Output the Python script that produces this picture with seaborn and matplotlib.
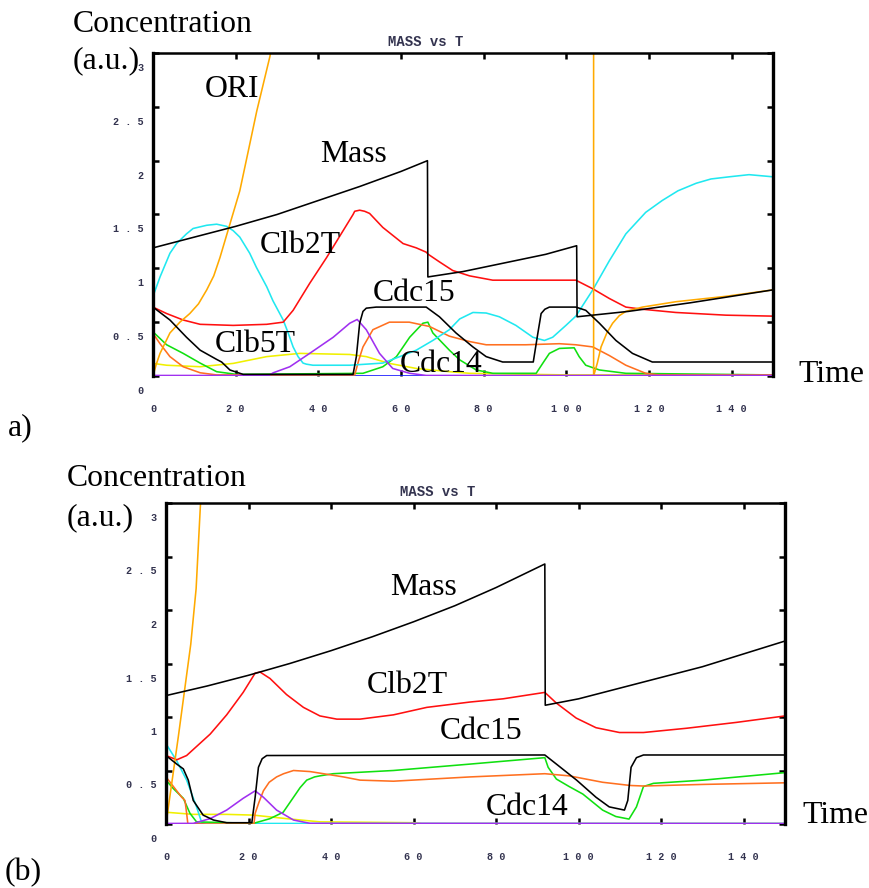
import matplotlib
matplotlib.use("Agg")
import matplotlib.pyplot as plt
import matplotlib.transforms as mtrans
import seaborn as sns

# ---------------- data: panel a ----------------
t_mass_a = [0, 10, 20, 30, 40, 50, 60, 66.4, 66.5, 75, 85, 95, 102.5, 102.6, 115, 130, 140, 150]
mass_a = [1.19, 1.29, 1.39, 1.50, 1.63, 1.76, 1.90, 2.00, 0.92, 0.97, 1.05, 1.13, 1.21, 0.55, 0.60, 0.68, 0.74, 0.80]

t_ori_a = [0, 0.8, 1.7, 4.1, 6.5, 8.9, 11, 13, 14.7, 16.2, 18.6, 21, 23, 25.1, 28.3, 29.5, 106.6, 106.6, 107.5, 108.4, 109.8, 111.2, 112.8, 114.4, 118.4, 126.5, 138.6, 150]
ori_a = [0, 0.11, 0.21, 0.40, 0.50, 0.58, 0.67, 0.80, 0.93, 1.10, 1.41, 1.72, 2.08, 2.46, 2.97, 3.3, 3.3, 0, 0.12, 0.27, 0.40, 0.49, 0.56, 0.60, 0.64, 0.69, 0.74, 0.80]

t_cyan_a = [0, 1.7, 4.1, 5.7, 8.1, 9.7, 13, 15.4, 17.8, 19.4, 21, 23.4, 25, 27.5, 29, 31.5, 32.7, 33.9, 35.1, 36.3, 37.1, 38.7, 47.6, 51.6, 55.6, 59.7, 63.7, 67.7, 71.7, 74.2, 77.4, 80.6, 83.8, 87.8, 91.9, 94.7, 96.7, 99.9, 102.3, 106.4, 110.4, 114.4, 119.2, 123.2, 127, 131.4, 135, 139.4, 144.2, 150]
cyan_a = [0.74, 0.92, 1.14, 1.23, 1.32, 1.37, 1.40, 1.41, 1.39, 1.35, 1.29, 1.14, 1.01, 0.83, 0.70, 0.52, 0.40, 0.27, 0.18, 0.12, 0.11, 0.10, 0.10, 0.11, 0.12, 0.18, 0.24, 0.33, 0.43, 0.53, 0.59, 0.585, 0.55, 0.47, 0.36, 0.33, 0.36, 0.47, 0.556, 0.80, 1.07, 1.32, 1.52, 1.63, 1.72, 1.79, 1.83, 1.85, 1.87, 1.85]

t_clb2_a = [0, 3.3, 7.3, 11.4, 19.4, 27.5, 31.5, 33.9, 37.9, 42, 46, 48.4, 48.8, 50, 51.2, 52.4, 55.6, 60.5, 63.7, 66.1, 66.6, 69.3, 72.5, 76.6, 82.2, 97.5, 102.3, 106.4, 110.4, 114.4, 118.4, 126.5, 138.6, 150]
clb2_a = [0.64, 0.58, 0.52, 0.48, 0.47, 0.48, 0.50, 0.61, 0.86, 1.10, 1.35, 1.50, 1.53, 1.54, 1.53, 1.51, 1.38, 1.23, 1.19, 1.15, 1.13, 1.06, 0.98, 0.93, 0.89, 0.89, 0.89, 0.81, 0.72, 0.64, 0.62, 0.59, 0.565, 0.556]

t_cdc15_a = [0, 4.1, 8.1, 11.4, 15.4, 16.6, 18.6, 21.8, 48.4, 49.2, 50, 50.8, 51.6, 54, 66.1, 69.3, 73.3, 77.4, 80.6, 84.6, 92, 93.1, 93.9, 94.8, 95.9, 102.3, 104.7, 108, 112, 116, 120.8, 150]
cdc15_a = [0.64, 0.52, 0.36, 0.24, 0.154, 0.13, 0.056, 0.015, 0.015, 0.18, 0.49, 0.60, 0.63, 0.64, 0.64, 0.55, 0.40, 0.27, 0.18, 0.13, 0.13, 0.395, 0.58, 0.62, 0.64, 0.64, 0.61, 0.49, 0.33, 0.21, 0.13, 0.13]

t_dorange_a = [0, 1.7, 4.1, 7.3, 11.4, 15.4, 48.8, 49.8, 50.8, 53.2, 57.2, 62, 66.9, 71.7, 76.6, 80.6, 90.2, 98.3, 102.3, 106.4, 110.4, 114.4, 119.2, 122.4, 150]
dorange_a = [0.395, 0.30, 0.18, 0.086, 0.03, 0.01, 0.01, 0.15, 0.27, 0.43, 0.50, 0.50, 0.46, 0.37, 0.32, 0.29, 0.29, 0.30, 0.29, 0.27, 0.19, 0.10, 0.025, 0.01, 0.01]

t_green_a = [0, 3.3, 7.3, 11.4, 15.4, 20.2, 50.8, 55.6, 58.9, 62.1, 65.3, 66.5, 67.7, 71.7, 74.2, 78.2, 82.2, 92.7, 94.5, 95.9, 98.3, 101.9, 103.1, 104.7, 108, 114.4, 150]
green_a = [0.41, 0.29, 0.21, 0.12, 0.04, 0.015, 0.025, 0.086, 0.18, 0.36, 0.49, 0.50, 0.40, 0.24, 0.15, 0.056, 0.025, 0.025, 0.13, 0.21, 0.256, 0.262, 0.18, 0.10, 0.056, 0.025, 0.01]

t_purple_a = [0, 28, 29.1, 33.1, 37.9, 43.6, 47.6, 49.4, 51.6, 54.8, 58, 62.1, 66.1, 150]
purple_a = [0.005, 0.005, 0.03, 0.086, 0.21, 0.36, 0.49, 0.525, 0.43, 0.21, 0.07, 0.025, 0.005, 0.005]

t_yellow_a = [0, 3.3, 11.4, 19.4, 27.5, 35.5, 47.6, 51.6, 57.2, 63.7, 71.7, 76.6, 100, 150]
yellow_a = [0.117, 0.10, 0.086, 0.117, 0.18, 0.21, 0.20, 0.18, 0.117, 0.07, 0.04, 0.025, 0.01, 0.01]

t_blue_a = [0, 150]
blue_a = [0, 0]

# ---------------- data: panel b ----------------
t_mass_b = [0, 10, 20, 30, 40, 50, 60, 70, 80, 91.8, 91.9, 100, 110, 120, 130, 140, 150]
mass_b = [1.20, 1.29, 1.39, 1.50, 1.62, 1.75, 1.89, 2.04, 2.21, 2.43, 1.11, 1.17, 1.27, 1.37, 1.47, 1.59, 1.71]

t_ori_b = [0, 3, 6, 7.3, 8.3, 8.8]
ori_b = [0, 0.82, 1.68, 2.2, 2.95, 3.3]

t_clb2_b = [0, 2.6, 5, 10.7, 14.7, 18.7, 21.6, 22.8, 25.2, 29.2, 33.3, 37.3, 41.4, 47, 55.1, 63.2, 73.7, 81.7, 91.8, 94.6, 99.4, 104.2, 109.9, 115.7, 126.2, 138.3, 150]
clb2_b = [0.64, 0.60, 0.64, 0.84, 1.02, 1.23, 1.41, 1.42, 1.36, 1.21, 1.09, 1.01, 0.98, 0.98, 1.02, 1.09, 1.14, 1.17, 1.23, 1.13, 0.99, 0.90, 0.855, 0.855, 0.895, 0.95, 1.01]

t_cdc15_b = [0, 2.6, 4.2, 5.4, 6.6, 9, 11.5, 14.7, 20.8, 21.6, 22.4, 23.3, 24.4, 91.8, 94.6, 99.5, 104.2, 107.4, 111.1, 111.9, 112.7, 114, 115.7, 150]
cdc15_b = [0.64, 0.56, 0.515, 0.41, 0.22, 0.083, 0.037, 0.012, 0.012, 0.25, 0.53, 0.61, 0.64, 0.645, 0.56, 0.41, 0.25, 0.16, 0.13, 0.22, 0.53, 0.62, 0.645, 0.645]

t_cyan_b = [0, 2.6, 5, 7.4, 8.6, 10, 150]
cyan_b = [0.75, 0.59, 0.41, 0.16, 0.02, 0.005, 0.005]

t_green_b = [0, 1.8, 4.2, 5.8, 7.4, 21.2, 25.2, 28.4, 30.9, 32.5, 34.1, 36, 37.3, 40.5, 55.1, 73.7, 91.8, 92.6, 94.6, 97.7, 101, 105.8, 109, 112.2, 114, 115.7, 118.1, 130.2, 150]
green_b = [0.41, 0.33, 0.24, 0.10, 0.02, 0.006, 0.05, 0.11, 0.25, 0.34, 0.41, 0.44, 0.45, 0.47, 0.50, 0.56, 0.62, 0.53, 0.42, 0.35, 0.28, 0.13, 0.07, 0.046, 0.16, 0.35, 0.38, 0.41, 0.48]

t_dorange_b = [0, 1.8, 3.8, 4.6, 5.0, 5.3, 21.3, 21.6, 22.5, 23.6, 25, 26.8, 28.5, 30.9, 34.9, 43, 47, 55.1, 73.7, 91.8, 97.7, 105.8, 112.5, 115.7, 130.2, 150]
dorange_b = [0.44, 0.35, 0.25, 0.22, 0.10, 0.0, 0.0, 0.1, 0.2, 0.31, 0.39, 0.44, 0.47, 0.50, 0.49, 0.44, 0.41, 0.40, 0.44, 0.47, 0.45, 0.39, 0.36, 0.355, 0.37, 0.385]

t_purple_b = [0, 6.6, 10.7, 14.7, 18.7, 21.6, 23.6, 26.8, 30.9, 34.9, 150]
purple_b = [0.005, 0.006, 0.05, 0.13, 0.24, 0.31, 0.25, 0.13, 0.037, 0.006, 0.005]

t_yellow_b = [0, 6.6, 14.7, 21.2, 29.2, 37.3, 60, 62, 150]
yellow_b = [0.11, 0.09, 0.09, 0.083, 0.05, 0.02, 0.012, 0.005, 0.005]

t_blue_b = [0, 150]
blue_b = [0, 0]

# ---------------- ticks / labels ----------------
x_ticks = [0, 20, 40, 60, 80, 100, 120, 140]
x_tick_labels = ["0", "2 0", "4 0", "6 0", "8 0", "1 0 0", "1 2 0", "1 4 0"]
y_ticks = [0, 0.5, 1, 1.5, 2, 2.5, 3]
y_tick_labels = ["0", "0 . 5", "1", "1 . 5", "2", "2 . 5", "3"]
title_text = "MASS vs T"

C_BLACK = "#000000"
C_ORI = "#FFAA00"
C_CYAN = "#20E8F0"
C_RED = "#FF1010"
C_DORANGE = "#FF7020"
C_GREEN = "#10E010"
C_PURPLE = "#A030F0"
C_YELLOW = "#F0F000"
C_BLUE = "#1010FF"

W, H = 869, 888
fig = plt.figure(figsize=(W / 100, H / 100), dpi=100)
fig.patch.set_facecolor("white")

SERIF = ["Liberation Serif", "DejaVu Serif"]
MONO = ["Liberation Mono", "DejaVu Sans Mono"]
TICKC = "#33334f"


def fpos(x, y):
    return x / W, 1 - y / H


def setup_axes(ax):
    ax.set_xlim(0, 150)
    ax.set_ylim(0, 3)
    ax.set_xticks(x_ticks)
    ax.set_xticklabels(x_tick_labels)
    ax.set_yticks(y_ticks)
    ax.set_yticklabels(y_tick_labels)
    ax.set_xlabel("")
    ax.set_ylabel("")
    ax.tick_params(axis="both", direction="in", length=4, width=1.8,
                   top=True, right=True, bottom=True, left=True, color="black")
    ax.tick_params(axis="x", pad=20)
    ax.tick_params(axis="y", pad=7)
    for lab in ax.get_xticklabels() + ax.get_yticklabels():
        lab.set_fontfamily(MONO)
        lab.set_fontsize(7.3)
        lab.set_fontweight("bold")
        lab.set_color(TICKC)
    off = mtrans.ScaledTranslation(0, -14 / 100, fig.dpi_scale_trans)
    for lab in ax.get_yticklabels():
        lab.set_transform(lab.get_transform() + off)
    for side in ["left", "right"]:
        ax.spines[side].set_linewidth(2.4)
    ax.spines["top"].set_linewidth(1.8)
    ax.spines["bottom"].set_visible(False)
    ax.set_facecolor("white")
    ax.text(0.5, 1.012, title_text, transform=ax.transAxes, ha="right", va="bottom",
            fontfamily=MONO, fontsize=10, fontweight="bold", color=TICKC)


def line(ax, t, y, c):
    sns.lineplot(x=t, y=y, ax=ax, color=c, linewidth=1.15, sort=False,
                 estimator=None, legend=False)


# ---------------- panel a ----------------
ax1 = fig.add_axes([153 / W, 1 - 376 / H, 620 / W, 323 / H])
line(ax1, t_blue_a, blue_a, C_BLUE)
line(ax1, t_yellow_a, yellow_a, C_YELLOW)
line(ax1, t_green_a, green_a, C_GREEN)
line(ax1, t_dorange_a, dorange_a, C_DORANGE)
line(ax1, t_cyan_a, cyan_a, C_CYAN)
line(ax1, t_clb2_a, clb2_a, C_RED)
line(ax1, t_ori_a, ori_a, C_ORI)
line(ax1, t_purple_a, purple_a, C_PURPLE)
line(ax1, t_cdc15_a, cdc15_a, C_BLACK)
line(ax1, t_mass_a, mass_a, C_BLACK)
setup_axes(ax1)

# ---------------- panel b ----------------
ax2 = fig.add_axes([166 / W, 1 - 824 / H, 619 / W, 321 / H])
line(ax2, t_blue_b, blue_b, C_BLUE)
line(ax2, t_yellow_b, yellow_b, C_YELLOW)
line(ax2, t_cyan_b, cyan_b, C_CYAN)
line(ax2, t_green_b, green_b, C_GREEN)
line(ax2, t_dorange_b, dorange_b, C_DORANGE)
line(ax2, t_clb2_b, clb2_b, C_RED)
line(ax2, t_ori_b, ori_b, C_ORI)
line(ax2, t_purple_b, purple_b, C_PURPLE)
line(ax2, t_cdc15_b, cdc15_b, C_BLACK)
line(ax2, t_mass_b, mass_b, C_BLACK)
setup_axes(ax2)

# ---------------- annotations ----------------
labels_px = [
    ("Concentration", 73, 32), ("(a.u.)", 73, 68), ("ORI", 205, 97), ("Mass", 320, 162),
    ("Clb2T", 260, 253), ("Cdc15", 373, 301), ("Clb5T", 215, 352), ("Cdc14", 400, 372),
    ("Time", 798, 382), ("a)", 8, 435),
    ("Concentration", 67, 486), ("(a.u.)", 67, 525), ("Mass", 390, 595),
    ("Clb2T", 367, 693), ("Cdc15", 440, 739), ("Cdc14", 486, 815),
    ("Time", 802, 823), ("(b)", 5, 880),
]
for s, x, y in labels_px:
    fx, fy = fpos(x, y)
    fig.text(fx, fy, s, ha="left", va="baseline", fontfamily=SERIF, fontsize=22.9, color="black")

fig.savefig("out.png", dpi=100, facecolor="white")
